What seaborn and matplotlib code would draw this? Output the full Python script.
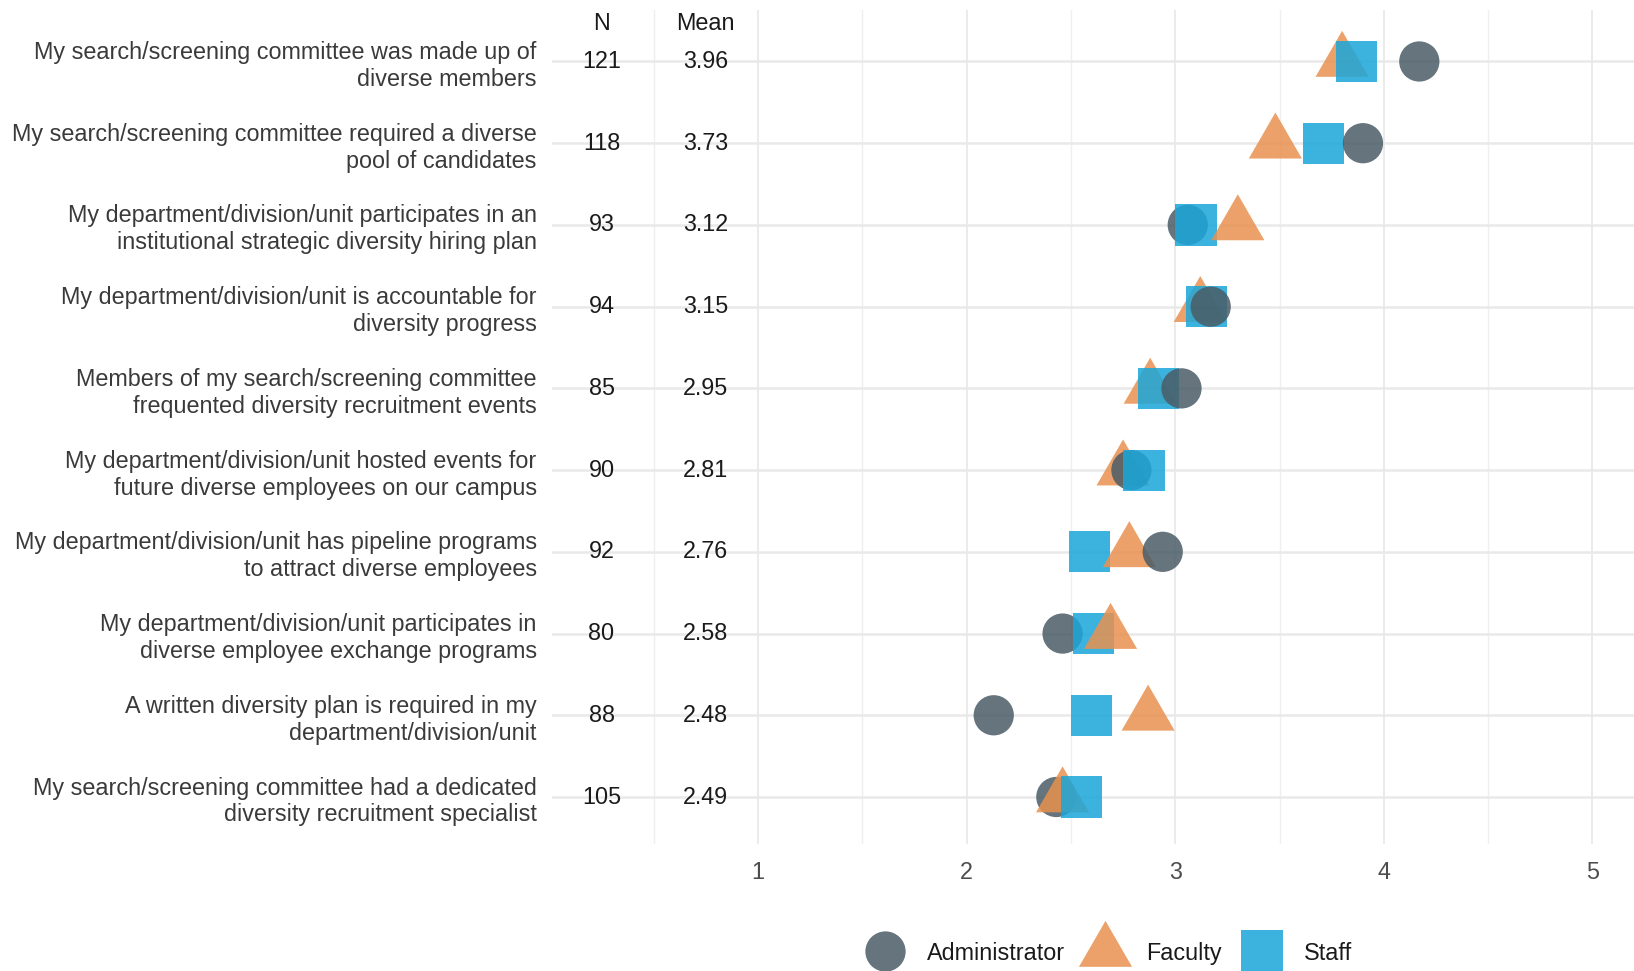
import matplotlib
matplotlib.use("Agg")
import matplotlib.pyplot as plt
from matplotlib.ticker import MultipleLocator
import numpy as np
import pandas as pd
import seaborn as sns

# --- donnees ---
items = [
    "My search/screening committee was made up of\ndiverse members",
    "My search/screening committee required a diverse\npool of candidates",
    "My department/division/unit participates in an\ninstitutional strategic diversity hiring plan",
    "My department/division/unit is accountable for\ndiversity progress",
    "Members of my search/screening committee\nfrequented diversity recruitment events",
    "My department/division/unit hosted events for\nfuture diverse employees on our campus",
    "My department/division/unit has pipeline programs\nto attract diverse employees",
    "My department/division/unit participates in\ndiverse employee exchange programs",
    "A written diversity plan is required in my\ndepartment/division/unit",
    "My search/screening committee had a dedicated\ndiversity recruitment specialist",
]
n_resp = [121, 118, 93, 94, 85, 90, 92, 80, 88, 105]
means = [3.96, 3.73, 3.12, 3.15, 2.95, 2.81, 2.76, 2.58, 2.48, 2.49]
administrator = [4.17, 3.90, 3.06, 3.17, 3.03, 2.79, 2.94, 2.46, 2.13, 2.43]
faculty = [3.80, 3.48, 3.30, 3.12, 2.88, 2.75, 2.78, 2.69, 2.87, 2.46]
staff = [3.87, 3.71, 3.10, 3.15, 2.92, 2.85, 2.59, 2.61, 2.60, 2.55]
roles = ["Administrator", "Faculty", "Staff"]

palette = {"Administrator": "#4a5c66", "Faculty": "#e8914f", "Staff": "#1aa6da"}
tri = [(0, 1), (-0.866, -0.5), (0.866, -0.5)]  # triangle centre sur son barycentre
markers = {"Administrator": "o", "Faculty": tri, "Staff": "s"}
sizes = {"Administrator": 840, "Faculty": 1950, "Staff": 880}
FS = 16.8

ypos = np.arange(len(items))[::-1] + 1
df = pd.DataFrame({"item": items, "y": ypos,
                   "Administrator": administrator, "Faculty": faculty, "Staff": staff})
long = df.melt(id_vars=["item", "y"], value_vars=roles, var_name="role", value_name="score")
# ordre de trace : valeur croissante dans chaque ligne
long = long.sort_values(["y", "score"])

plt.rcParams["font.family"] = ["Liberation Sans", "DejaVu Sans"]
W, H = 1634, 971
fig = plt.figure(figsize=(W / 100, H / 100), dpi=100)
ax = fig.add_axes([552 / W, 1 - 844 / H, (1642 - 552) / W, (844 - 10.4) / H])

sns.scatterplot(data=long, x="score", y="y", hue="role", style="role", size="role",
                hue_order=roles, style_order=roles, size_order=roles,
                palette=palette, markers=markers, sizes=sizes,
                alpha=0.85, linewidth=0, ax=ax, zorder=3)

ax.set_xlim(0.0125, 5.2375)
ax.set_ylim(0.425, 10.625)
ax.set_xticks([1, 2, 3, 4, 5])
ax.xaxis.set_minor_locator(MultipleLocator(0.5))
ax.set_yticks(ypos)
ax.set_yticklabels(items, fontsize=FS, color="#3a3a3a", linespacing=1.22)
ax.tick_params(axis="x", length=0, pad=12, labelsize=FS, labelcolor="#4d4d4d")
ax.tick_params(axis="x", which="minor", length=0)
ax.tick_params(axis="y", length=0, pad=11)
ax.grid(True, axis="y", which="major", color="#e9e9e9", lw=1.8, zorder=0)
ax.grid(True, axis="x", which="major", color="#e9e9e9", lw=1.3, zorder=0)
ax.grid(True, axis="x", which="minor", color="#efefef", lw=1.0, zorder=0)
ax.set_axisbelow(True)
for s in ax.spines.values():
    s.set_visible(False)
ax.set_xlabel("")
ax.set_ylabel("")

# colonnes N / Mean
ax.text(0.25, 10.46, "N", ha="center", va="center", fontsize=FS, color="#1a1a1a")
ax.text(0.75, 10.46, "Mean", ha="center", va="center", fontsize=FS, color="#1a1a1a")
for yv, n, m in zip(ypos, n_resp, means):
    ax.text(0.25, yv, str(n), ha="center", va="center", fontsize=FS, color="#1a1a1a")
    ax.text(0.75, yv, f"{m:.2f}", ha="center", va="center", fontsize=FS, color="#1a1a1a")

leg = ax.legend(loc="center", bbox_to_anchor=(1108 / W, 1 - 953 / H),
                bbox_transform=fig.transFigure, ncol=3, frameon=False,
                fontsize=FS, handlelength=1.8, handletextpad=0.9, columnspacing=0.8,
                title=None)
for t in leg.get_texts():
    t.set_color("#1a1a1a")

fig.savefig("out.png", dpi=100)
plt.close(fig)
